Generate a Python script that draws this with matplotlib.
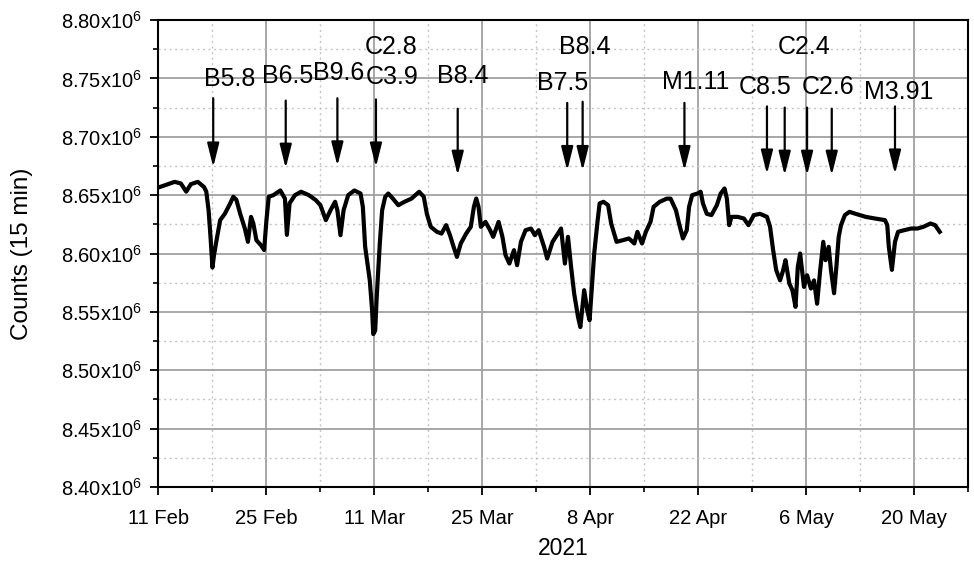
import pandas as pd
import matplotlib
matplotlib.use('Agg')
import matplotlib.pyplot as plt

plt.rcParams['font.family'] = ['Liberation Sans', 'DejaVu Sans']
plt.rcParams['mathtext.fontset'] = 'custom'
plt.rcParams['mathtext.rm'] = 'Liberation Sans'
plt.rcParams['mathtext.it'] = 'Liberation Sans:italic'

# days after 11 Feb 2021 and counts (x10^6)
day = [0.0, 0.9, 2.1, 2.9, 3.6, 4.2, 5.1, 5.9, 6.2, 6.5, 6.75, 7.0, 7.2, 7.6,
       8.0, 8.6, 9.3, 9.7, 10.1, 10.6, 11.2, 11.6, 12.0, 12.3, 12.7, 13.3, 13.7,
       14.0, 14.3, 14.9, 15.8, 16.4, 16.65, 17.0, 17.7, 18.5, 19.5, 20.4, 21.0,
       21.4, 21.7, 22.3, 22.9, 23.2, 23.6, 24.0, 24.6, 25.4, 26.2, 26.5, 26.8,
       27.1, 27.4, 27.7, 27.85, 28.1, 28.3, 28.7, 29.0, 29.4, 29.8, 30.4, 31.1,
       31.9, 32.8, 33.8, 34.4, 34.8, 35.3, 36.1, 36.7, 37.3, 37.8, 38.2, 38.7,
       39.2, 39.9, 40.5, 40.9, 41.2, 41.5, 41.8, 42.4, 43.0, 43.4, 44.1, 44.6,
       45.0, 45.5, 46.1, 46.5, 47.0, 47.6, 48.3, 48.8, 49.3, 50.0, 50.4, 51.1,
       51.8, 52.2, 52.7, 53.1, 53.5, 53.9, 54.4, 54.7, 55.2, 55.6, 55.9, 56.2,
       56.5, 56.9, 57.2, 57.7, 58.3, 58.7, 59.4, 60.2, 61.0, 61.7, 62.1, 62.7,
       63.2, 63.8, 64.2, 65.0, 65.9, 66.4, 67.1, 67.5, 68.0, 68.5, 68.8, 69.2,
       69.9, 70.3, 70.6, 71.1, 71.7, 72.4, 72.9, 73.4, 73.7, 74.0, 74.3, 75.1,
       75.9, 76.5, 77.2, 78.0, 78.9, 79.3, 79.7, 80.1, 80.6, 81.0, 81.3, 81.8,
       82.2, 82.6, 82.9, 83.2, 83.7, 84.1, 84.6, 85.0, 85.4, 85.8, 86.2, 86.5,
       86.9, 87.2, 87.6, 87.9, 88.2, 88.5, 89.0, 89.6, 90.4, 91.7, 92.9, 94.2,
       94.5, 94.7, 95.1, 95.5, 95.9, 96.7, 97.6, 98.4, 99.2, 100.1, 100.7, 101.3]
counts = [8.6566, 8.6586, 8.6614, 8.660, 8.653, 8.6594, 8.6614, 8.657, 8.653,
          8.637, 8.614, 8.588, 8.5986, 8.614, 8.6286, 8.634, 8.6429, 8.6486,
          8.646, 8.634, 8.6214, 8.61, 8.6314, 8.6257, 8.6114, 8.607, 8.603,
          8.6286, 8.6486, 8.65, 8.654, 8.647, 8.616, 8.643, 8.65, 8.6529, 8.65,
          8.6457, 8.6414, 8.634, 8.6286, 8.637, 8.6443, 8.637, 8.6157, 8.637,
          8.65, 8.654, 8.6514, 8.64, 8.6057, 8.5914, 8.577, 8.5514, 8.531, 8.534,
          8.563, 8.6086, 8.637, 8.6486, 8.6514, 8.647, 8.6414, 8.6443, 8.647,
          8.6529, 8.6486, 8.634, 8.6229, 8.6186, 8.6171, 8.6243, 8.6157, 8.6071,
          8.5971, 8.6086, 8.6171, 8.6229, 8.64, 8.6471, 8.64, 8.6229, 8.6271,
          8.62, 8.6143, 8.6271, 8.6143, 8.5986, 8.5914, 8.6029, 8.59, 8.61, 8.62,
          8.6214, 8.6157, 8.62, 8.6057, 8.5957, 8.61, 8.6171, 8.6214, 8.5914,
          8.6143, 8.5886, 8.5657, 8.5457, 8.537, 8.5686, 8.5514, 8.5429, 8.5714,
          8.600, 8.6257, 8.6429, 8.6443, 8.6414, 8.6257, 8.61, 8.6114, 8.6129,
          8.6086, 8.6186, 8.6086, 8.6186, 8.6271, 8.64, 8.6443, 8.647, 8.647,
          8.637, 8.6257, 8.6129, 8.62, 8.64, 8.65, 8.6514, 8.6529, 8.6429, 8.634,
          8.6329, 8.6414, 8.6514, 8.6557, 8.647, 8.6243, 8.6314, 8.6314, 8.63,
          8.6243, 8.6329, 8.634, 8.6314, 8.6229, 8.6029, 8.5857, 8.577, 8.5857,
          8.5943, 8.5743, 8.5686, 8.5543, 8.5886, 8.600, 8.5714, 8.5814, 8.570,
          8.577, 8.557, 8.5857, 8.61, 8.5943, 8.6057, 8.5857, 8.566, 8.5886,
          8.6143, 8.6243, 8.6329, 8.6357, 8.634, 8.6314, 8.630, 8.6286, 8.6243,
          8.6057, 8.586, 8.61, 8.6186, 8.620, 8.6214, 8.6214, 8.6229, 8.6257,
          8.6243, 8.6186]

# flare arrows: day, arrow top, arrow tip (x10^6)
arrow_day = [7.1, 16.5, 23.2, 28.2, 38.8, 53.0, 55.0, 68.2, 78.9, 81.2, 84.1, 87.3, 95.5]
arrow_top = [8.733, 8.731, 8.733, 8.732, 8.724, 8.729, 8.730, 8.729, 8.726, 8.725, 8.725, 8.724, 8.726]
arrow_tip = [8.674, 8.673, 8.675, 8.674, 8.667, 8.671, 8.671, 8.671, 8.668, 8.667, 8.667, 8.667, 8.668]

flare_text = ['B5.8', 'B6.5', 'B9.6', 'C3.9', 'C2.8', 'B8.4', 'B7.5', 'B8.4',
              'M1.11', 'C8.5', 'C2.4', 'C2.6', 'M3.91']
text_day = [9.2, 16.8, 23.4, 30.3, 30.2, 39.4, 52.4, 55.3, 69.7, 78.7, 83.7, 86.8, 96.0]
text_val = [8.7494, 8.7523, 8.7543, 8.7514, 8.7766, 8.7523, 8.7457, 8.7766,
            8.7471, 8.7429, 8.7766, 8.7429, 8.7386]

tick_dates = ['2021-02-11', '2021-02-25', '2021-03-11', '2021-03-25',
              '2021-04-08', '2021-04-22', '2021-05-06', '2021-05-20']
tick_labels = ['11 Feb', '25 Feb', '11 Mar', '25 Mar', '8 Apr', '22 Apr', '6 May', '20 May']
ytick_vals = [8.40, 8.45, 8.50, 8.55, 8.60, 8.65, 8.70, 8.75, 8.80]

start = pd.Timestamp('2021-02-11')


def to_date(d):
    return start + pd.to_timedelta(d, unit='D')


fig = plt.figure(figsize=(9.74, 5.61), dpi=100)
ax = fig.add_axes([0.1627, 0.1319, 0.8314, 0.8324])

x = to_date(pd.Series(day))
y = [v * 1e6 for v in counts]
ax.plot(x, y, color='black', lw=3.0, solid_joinstyle='round', zorder=3)

for d, top, tip in zip(arrow_day, arrow_top, arrow_tip):
    ax.annotate('', xy=(to_date(d), tip * 1e6), xytext=(to_date(d), top * 1e6),
                arrowprops=dict(arrowstyle='-|>,head_length=0.8,head_width=0.2',
                                color='black', lw=1.6, mutation_scale=18,
                                shrinkA=0, shrinkB=0), zorder=4)

for t, d, v in zip(flare_text, text_day, text_val):
    ax.text(to_date(d), v * 1e6, t, ha='center', va='center', fontsize=18, zorder=5)

ax.set_xlim(start, to_date(102.0))
ax.set_ylim(8.40e6, 8.80e6)

ax.set_xticks(pd.to_datetime(tick_dates))
ax.set_xticklabels(tick_labels)
ax.set_xticks(pd.to_datetime(tick_dates) + pd.Timedelta(days=7), minor=True)
ax.set_yticks([v * 1e6 for v in ytick_vals])
ax.set_yticklabels(['%.2fx10$^{6}$' % v for v in ytick_vals])
ax.set_yticks([(v + 0.025) * 1e6 for v in ytick_vals[:-1]], minor=True)

ax.grid(True, which='major', color='#a0a0a0', lw=1.3, ls='-', zorder=0)
ax.grid(True, which='minor', color='#c4c4c4', lw=1.0, ls=(0, (1.5, 2.5)), zorder=0)
ax.set_axisbelow(True)

for s in ax.spines.values():
    s.set_linewidth(1.5)
ax.tick_params(which='major', direction='out', length=6, width=1.3, labelsize=14.5, pad=6)
ax.tick_params(which='minor', direction='out', length=3.5, width=1.2)
ax.tick_params(axis='x', which='major', pad=10)

ax.set_ylabel('Counts (15 min)', fontsize=17.5, labelpad=20)
ax.set_xlabel('2021', fontsize=16.5, labelpad=6)

fig.savefig('out.png', dpi=100)
